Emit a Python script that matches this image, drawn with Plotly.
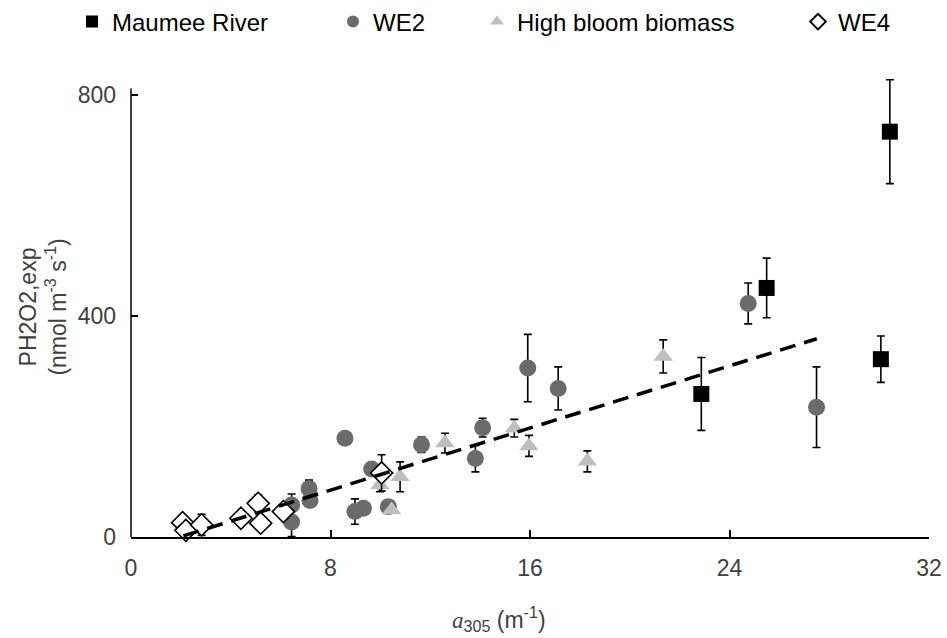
import plotly.graph_objects as go

# ---- data ----
maumee_x = [22.87, 25.49, 30.07, 30.43]
maumee_y = [259, 451, 322, 734]
maumee_err = [66, 54, 42, 94]

we2_x = [6.44, 6.44, 7.14, 7.18, 8.58, 8.98, 9.32, 9.65, 10.32, 11.65, 13.81, 14.10, 15.91, 17.13, 24.75, 27.49]
we2_y = [58, 27, 88, 66, 179, 46, 52, 123, 55, 167, 142, 198, 306, 269, 423, 235]
we2_err = [20, 26, 15, 6, 8, 23, 6, 6, 6, 14, 24, 17, 61, 39, 37, 73]

bloom_x = [9.98, 10.45, 10.79, 12.59, 15.37, 15.96, 18.30, 21.34]
bloom_y = [94, 49, 109, 170, 197, 165, 137, 327]
bloom_err = [12, 6, 27, 18, 16, 19, 19, 30]

we4_x = [2.07, 2.20, 2.83, 4.41, 5.10, 5.20, 6.11, 10.05]
we4_y = [26, 12, 22, 34, 61, 25, 46, 116]
we4_err = [5, 5, 19, 5, 15, 10, 8, 33]

trend_x = [2.1, 27.5]
trend_y = [2, 359]

x_ticks = [0, 8, 16, 24, 32]
y_ticks = [0, 400, 800]
y_axis_max = 812

FONT = "Liberation Sans, Arial, sans-serif"

def errbar(vals):
    return dict(type="data", array=vals, visible=True, color="black",
                thickness=1.6, width=4)

fig = go.Figure()

fig.add_trace(go.Scatter(
    x=we2_x, y=we2_y, mode="markers", name="WE2", legend="legend2",
    marker=dict(symbol="circle", size=17, color="#6b6b6b", line=dict(width=0)),
    error_y=errbar(we2_err), cliponaxis=False))

fig.add_trace(go.Scatter(
    x=bloom_x, y=bloom_y, mode="markers", name="High bloom biomass", legend="legend3",
    marker=dict(symbol="triangle-up", size=17, color="#bfbfbf", line=dict(width=0)),
    error_y=errbar(bloom_err), cliponaxis=False))

fig.add_trace(go.Scatter(
    x=we4_x, y=we4_y, mode="markers", name="WE4", legend="legend4",
    marker=dict(symbol="diamond", size=17, color="white", line=dict(width=1.6, color="black")),
    error_y=errbar(we4_err), cliponaxis=False))

fig.add_trace(go.Scatter(
    x=maumee_x, y=maumee_y, mode="markers", name="Maumee River", legend="legend",
    marker=dict(symbol="square", size=16, color="black", line=dict(width=0)),
    error_y=errbar(maumee_err), cliponaxis=False))

fig.add_trace(go.Scatter(
    x=trend_x, y=trend_y, mode="lines", showlegend=False,
    line=dict(color="black", width=3.5, dash="16px,9px")))

legend_common = dict(xref="container", yref="container", xanchor="left", yanchor="middle",
                     orientation="h", itemsizing="constant", bgcolor="rgba(0,0,0,0)",
                     font=dict(family=FONT, size=24, color="black"), borderwidth=0)

W, H = 947, 638
fig.update_layout(
    width=W, height=H,
    margin=dict(l=131, r=18, t=77, b=101, autoexpand=False),
    plot_bgcolor="white", paper_bgcolor="white",
    font=dict(family=FONT, size=23, color="#404040"),
    showlegend=True,
    legend=dict(x=72 / W, y=1 - 22 / H, **legend_common),
    legend2=dict(x=333 / W, y=1 - 22 / H, **legend_common),
    legend3=dict(x=477 / W, y=1 - 22 / H, **legend_common),
    legend4=dict(x=798 / W, y=1 - 22 / H, **legend_common),
    xaxis=dict(range=[0, 32], tickvals=x_ticks, ticks="inside", ticklen=7, tickwidth=1.5,
               tickcolor="black", showline=True, linecolor="black", linewidth=1.5,
               showgrid=False, zeroline=False, ticklabelstandoff=10, automargin=False,
               tickfont=dict(size=23, color="#404040")),
    yaxis=dict(range=[0, 833], tickvals=y_ticks, ticks="inside", ticklen=7, tickwidth=1.5,
               tickcolor="black", showline=False,
               showgrid=False, zeroline=False, ticklabelstandoff=14, automargin=False,
               tickfont=dict(size=23, color="#404040"),
               title=dict(text="PH2O2,exp<br>(nmol m<sup>-3</sup> s<sup>-1</sup>)",
                          font=dict(size=23, color="#404040"), standoff=4)),
    shapes=[dict(type="line", xref="paper", yref="y", x0=0, x1=0, y0=0, y1=y_axis_max,
                 line=dict(color="black", width=1.5))],
    annotations=[dict(
        text="<span style=\"font-family:'Liberation Serif';font-style:italic\">a</span><sub>305</sub> (m<sup>-1</sup>)",
        xref="paper", yref="paper", x=(499 - 131) / (929 - 131), y=-0.14,
        xanchor="center", yanchor="top", showarrow=False,
        font=dict(size=23, color="#404040"))],
)

fig.write_html("out.html")
